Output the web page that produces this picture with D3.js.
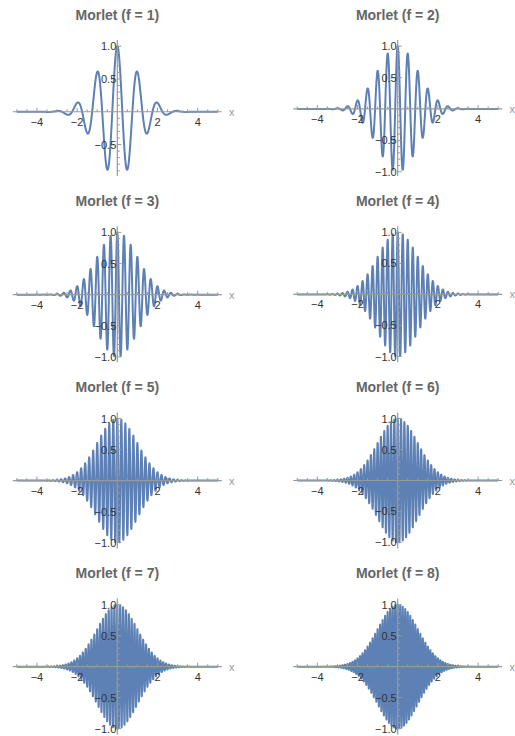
<!DOCTYPE html>
<html>
<head>
<meta charset="utf-8">
<script src="https://cdn.jsdelivr.net/npm/d3@7"></script>
<style>
  html, body { margin: 0; padding: 0; background: #fff; }
  svg { display: block; }
  text { font-family: "Liberation Sans", Arial, sans-serif; }
</style>
</head>
<body>
<svg id="chart" width="515" height="736"></svg>
<script>
// ---- data ----
const frequencies = [1, 2, 3, 4, 5, 6, 7, 8];
const xDomain = [-5, 5];
const sampleCount = 4001;
const xTickValues = [-4, -2, 2, 4];
const yTickValues = [-1, -0.5, 0.5, 1];
const titles = frequencies.map(f => `Morlet (f = ${f})`);

// Morlet wavelet: exp(-x^2/2) * cos(2 pi f x)
function morlet(x, f) { return Math.exp(-x * x / 2) * Math.cos(2 * Math.PI * f * x); }

// ---- layout ----
const svg = d3.select("#chart");
const colZero = [117.3, 397.7];
const unitX = 20.1;
const rowStep = 186.2;
const plotTop = 40, plotBottom = 176;
const lineColor = "#5E81B5";
const axisColor = "#999999";
const fmt = d => (d < 0 ? "\u2212" : "") + Math.abs(d).toFixed(1);
const fmtX = d => (d < 0 ? "\u2212" : "") + Math.abs(d);

frequencies.forEach((f, i) => {
  const col = i % 2, row = Math.floor(i / 2);
  const oy = row * rowStep;
  const xs = d3.range(sampleCount).map(k => xDomain[0] + (xDomain[1] - xDomain[0]) * k / (sampleCount - 1));
  const pts = xs.map(x => [x, morlet(x, f)]);
  const [ymin, ymax] = d3.extent(pts, d => d[1]);
  const padY = (ymax - ymin) * 0.05;
  const padX = (xDomain[1] - xDomain[0]) * 0.02;

  const x = d3.scaleLinear()
    .domain([xDomain[0] - padX, xDomain[1] + padX])
    .range([colZero[col] + (xDomain[0] - padX) * unitX, colZero[col] + (xDomain[1] + padX) * unitX]);
  const y = d3.scaleLinear()
    .domain([ymin - padY, ymax + padY])
    .range([oy + plotBottom, oy + plotTop]);

  const g = svg.append("g");

  // title
  g.append("text")
    .attr("x", colZero[col])
    .attr("y", oy + 19.5)
    .attr("text-anchor", "middle")
    .attr("font-size", "14px")
    .attr("font-weight", "bold")
    .attr("fill", "#666")
    .text(titles[i]);

  // curve
  const line = d3.line().x(d => x(d[0])).y(d => y(d[1]));
  g.append("path")
    .datum(pts)
    .attr("fill", "none")
    .attr("stroke", lineColor)
    .attr("stroke-width", 2)
    .attr("stroke-linejoin", "round")
    .attr("d", line);

  // x axis
  const y0 = y(0), x0 = x(0);
  const ax = g.append("g");
  ax.append("line")
    .attr("x1", x.range()[0]).attr("x2", x.range()[1])
    .attr("y1", y0).attr("y2", y0)
    .attr("stroke", axisColor).attr("stroke-width", 1.2);
  const xMinor = d3.range(-5, 5.01, 0.5).filter(v => v !== 0);
  ax.selectAll(".xt").data(xMinor).join("line")
    .attr("x1", d => x(d)).attr("x2", d => x(d))
    .attr("y1", y0).attr("y2", d => y0 - (Math.abs(d % 2) < 1e-9 ? 4 : 2.5))
    .attr("stroke", axisColor).attr("stroke-width", 1);
  ax.selectAll(".xl").data(xTickValues).join("text")
    .attr("x", d => x(d)).attr("y", y0 + 14)
    .attr("text-anchor", "middle")
    .attr("font-size", "11px")
    .attr("fill", "#333")
    .text(fmtX);
  ax.append("text")
    .attr("x", x.range()[1] + 10).attr("y", y0 + 4)
    .attr("text-anchor", "middle")
    .attr("font-size", "11px")
    .attr("fill", "#999")
    .text("x");

  // y axis
  ax.append("line")
    .attr("x1", x0).attr("x2", x0)
    .attr("y1", y.range()[0]).attr("y2", y.range()[1])
    .attr("stroke", axisColor).attr("stroke-width", 1.2);
  const [dlo, dhi] = y.domain();
  const yMinor = d3.range(-1, 1.001, 0.1).map(v => Math.round(v * 10) / 10)
    .filter(v => v !== 0 && v >= dlo && v <= dhi);
  ax.selectAll(".yt").data(yMinor).join("line")
    .attr("x1", x0).attr("x2", d => x0 + (Math.abs((d * 2) % 1) < 1e-9 ? 4 : 2.5))
    .attr("y1", d => y(d)).attr("y2", d => y(d))
    .attr("stroke", axisColor).attr("stroke-width", 1);
  ax.selectAll(".yl").data(yTickValues.filter(v => v >= dlo && v <= dhi)).join("text")
    .attr("x", x0 - 1).attr("y", d => y(d) + 4)
    .attr("text-anchor", "end")
    .attr("font-size", "11px")
    .attr("fill", "#333")
    .text(fmt);
});
</script>
</body>
</html>
